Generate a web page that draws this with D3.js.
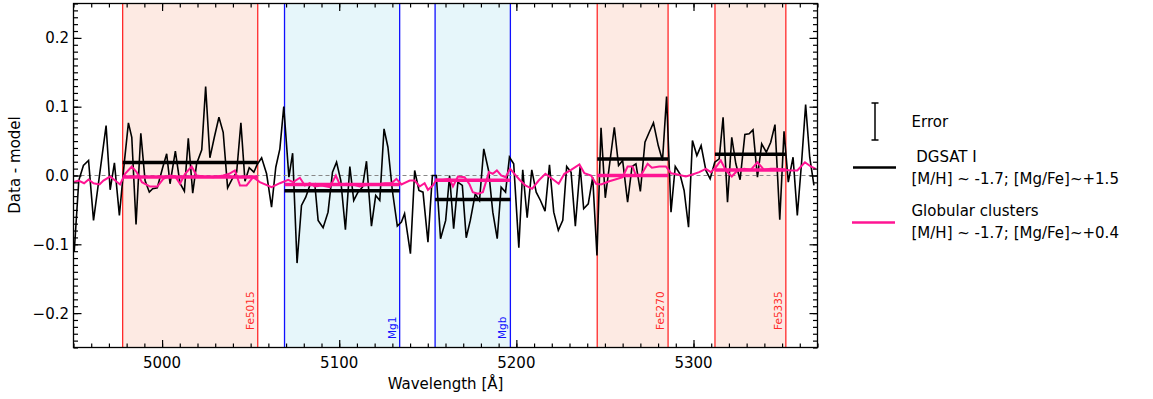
<!DOCTYPE html>
<html>
<head>
<meta charset="utf-8">
<script src="https://cdn.jsdelivr.net/npm/d3@7"></script>
<style>
  body { margin: 0; background: #fff; }
  svg { display: block; font-family: "DejaVu Sans", sans-serif; }
</style>
</head>
<body>
<svg id="chart" width="1153" height="399"></svg>
<script>
// ---------------- DATA ----------------
const dgsatWl = [4950.4,4953.0,4955.6,4958.5,4961.3,4968.4,4970.7,4973.1,4975.9,4978.6,4981.0,4982.9,4985.3,4988.0,4990.4,4992.8,4994.7,4997.3,5000.4,5002.6,5004.5,5007.5,5010.1,5012.6,5014.8,5017.3,5019.5,5022.4,5024.6,5027.0,5029.5,5032.1,5034.5,5037.0,5039.6,5042.1,5044.5,5046.8,5049.2,5051.8,5053.7,5056.2,5059.0,5061.8,5064.2,5066.5,5068.7,5071.6,5073.7,5076.2,5078.7,5081.1,5083.4,5086.2,5088.1,5090.9,5093.7,5096.2,5098.5,5100.9,5103.5,5106.0,5108.2,5110.6,5113.1,5115.4,5118.2,5120.6,5122.9,5125.3,5127.5,5130.0,5132.8,5135.1,5136.9,5140.2,5142.6,5145.0,5147.3,5150.1,5152.6,5154.8,5157.2,5160.1,5162.3,5164.6,5167.0,5169.5,5171.7,5174.0,5176.8,5179.2,5181.6,5184.3,5186.7,5189.2,5191.4,5193.9,5196.1,5198.5,5201.4,5203.6,5206.1,5208.7,5211.2,5213.6,5216.2,5218.7,5221.1,5223.7,5226.2,5228.4,5230.9,5233.3,5236.0,5238.0,5240.6,5243.1,5245.5,5247.8,5250.2,5252.9,5255.3,5257.7,5260.0,5262.8,5265.3,5267.5,5270.0,5272.6,5275.0,5277.4,5280.1,5282.5,5284.8,5287.3,5289.7,5292.3,5294.7,5297.2,5299.4,5301.9,5304.3,5307.0,5309.4,5312.0,5314.5,5316.7,5319.2,5321.6,5323.9,5326.3,5329.0,5331.4,5333.6,5336.1,5338.5,5341.1,5343.6,5346.0,5348.7,5351.1,5353.5,5356.2,5358.6,5361.1,5363.3,5365.6,5368.0];
const dgsatVal = [-0.111,-0.007,0.0145,0.0218,-0.0653,0.0726,-0.0208,0.0184,-0.058,0.017,0.0765,0.0556,-0.0711,0.0614,-0.0073,-0.0242,-0.0193,-0.0179,0.012,0.0315,-0.012,0.0353,-0.0112,-0.0228,0.0541,-0.0257,0.017,0.0373,0.1292,0.0257,0.0556,0.0846,0.0628,-0.0179,-0.0048,0.0048,0.0765,-0.0083,0.0112,0.0048,0.016,0.0257,0.0025,-0.046,0.012,0.0388,0.1001,-0.0025,0.0324,-0.1273,-0.0435,-0.0315,-0.0145,-0.012,-0.0653,-0.0759,-0.0533,0.0048,0.0193,-0.0073,-0.0788,0.0131,-0.0363,-0.0242,-0.017,0.0208,-0.0736,-0.029,-0.0363,0.0678,0.0411,-0.0218,-0.0736,-0.0678,-0.0556,-0.1136,0.0073,-0.0218,-0.0242,-0.0968,0.0,0.0,-0.0919,-0.0653,0.0,-0.0774,-0.0097,-0.0145,-0.0904,-0.0653,-0.0266,-0.0363,0.0388,0.0073,-0.0533,-0.0919,-0.017,-0.0242,0.0266,0.017,-0.1049,0.0083,-0.0614,0.0083,-0.0242,-0.0363,-0.0518,0.0155,-0.0533,-0.0798,-0.0653,0.0131,0.0048,-0.0736,0.0131,-0.0483,-0.0411,-0.0025,-0.1161,0.0692,-0.0324,0.0218,0.0701,0.0145,0.0218,-0.0388,0.0131,0.017,-0.0232,0.0483,0.0628,0.0765,0.0435,0.0218,0.1147,-0.0533,0.0131,0.0025,-0.0218,-0.075,0.0508,0.029,0.0435,0.0073,-0.0048,0.0193,0.0242,0.0846,-0.0388,0.0556,0.017,-0.0062,0.0595,0.0605,0.0663,-0.0025,0.046,0.0338,0.0483,0.074,-0.0643,0.0643,-0.0097,0.0266,-0.058,0.0218,0.103,0.0266,-0.0145];

const gcWl = [4950.4,4952.8,4956.0,4958.5,4961.3,4964.7,4966.9,4970.7,4973.5,4976.3,4979.1,4982.9,4985.7,4988.6,4993.2,4997.3,5000.7,5004.5,5007.3,5010.1,5013.0,5016.7,5019.5,5023.3,5028.9,5034.5,5037.9,5041.1,5044.0,5047.7,5051.4,5055.2,5061.8,5066.5,5071.2,5074.0,5077.8,5080.6,5083.4,5086.2,5090.0,5094.7,5098.1,5100.3,5104.1,5107.8,5111.6,5116.3,5121.0,5125.7,5129.5,5132.3,5135.1,5139.8,5142.6,5145.4,5148.2,5150.1,5152.9,5154.8,5158.5,5162.3,5164.2,5167.0,5170.8,5173.6,5175.4,5178.3,5181.1,5184.5,5186.7,5189.0,5191.4,5193.9,5196.5,5198.9,5201.8,5205.1,5208.9,5212.6,5216.4,5220.2,5223.9,5227.1,5230.9,5235.6,5238.4,5242.2,5245.0,5247.8,5252.5,5257.2,5260.0,5262.8,5265.6,5267.5,5270.3,5274.1,5276.5,5280.7,5284.4,5287.3,5291.0,5295.7,5299.4,5303.2,5307.0,5309.8,5312.6,5315.4,5318.3,5321.6,5324.8,5328.6,5332.3,5336.1,5339.8,5343.6,5347.3,5351.1,5354.9,5358.6,5362.9,5366.2,5369.0];
const gcVal = [-0.0094,-0.0073,-0.0112,-0.0058,-0.0112,-0.0131,-0.0073,-0.0015,-0.0073,-0.0131,0.0025,0.0131,0.0048,-0.0097,-0.016,-0.016,-0.0048,0.0,-0.001,-0.012,0.0025,0.0131,0.0,-0.0015,-0.0025,0.0,0.0025,0.0073,-0.0145,-0.0145,-0.0025,-0.0097,-0.017,-0.0112,-0.0062,-0.0097,-0.0033,-0.0145,-0.0112,-0.016,-0.0145,-0.017,0.0,-0.0131,-0.012,-0.0131,-0.016,-0.0131,-0.0131,-0.0112,-0.0112,-0.0048,-0.0131,-0.0073,-0.0073,-0.016,-0.0112,-0.0208,-0.0145,-0.0062,-0.0062,-0.0048,-0.016,-0.0015,-0.0025,-0.0131,-0.0242,-0.0266,-0.0242,0.0048,0.0025,0.0073,0.0,-0.0025,0.0097,0.0025,-0.0062,-0.0145,-0.0193,-0.0073,0.0025,-0.0048,-0.012,0.0025,0.0083,0.016,0.0033,0.0,-0.012,-0.0131,-0.0083,-0.0048,-0.0025,0.0131,0.0131,0.0,0.0,0.017,0.0112,0.0131,0.0131,0.0033,0.0015,-0.0015,0.0015,0.0048,0.0097,0.0048,0.012,0.0218,0.0073,-0.0015,0.0073,0.0097,0.0083,0.0193,0.0083,0.0097,0.0097,0.0083,0.0073,0.0073,0.0193,0.0131,0.0097];

// index bandpasses
const bandNames = ["Fe5015", "Mg1", "Mgb", "Fe5270", "Fe5335"];
const bandStart = [4977.75, 5069.125, 5154.125, 5245.65, 5312.125];
const bandEnd   = [5054.0, 5134.125, 5196.625, 5285.65, 5352.125];
const bandKind  = ["Fe", "Mg", "Mg", "Fe", "Fe"];
// mean residual in each band
const meanDGSAT = [0.019, -0.022, -0.035, 0.024, 0.031];
const meanGC    = [-0.002, -0.013, -0.007, 0.0, 0.008];

const xMajorTicks = [5000, 5100, 5200, 5300];
const yMajorTicks = [-0.2, -0.1, 0.0, 0.1, 0.2];

const legendLabels = ["Error", " DGSAT I", "[M/H] ~ -1.7; [Mg/Fe]~+1.5", "Globular clusters", "[M/H] ~ -1.7; [Mg/Fe]~+0.4"];

// ---------------- LAYOUT ----------------
const L = 73.5, R = 817.5, T = 3.5, B = 347.5;
const svg = d3.select("#chart");
const x = d3.scaleLinear().domain([4950, 5370]).range([L, R]);
const y = d3.scaleLinear().domain([-0.25, 0.25]).range([B, T]);

const style = {
  Fe: { edge: "#ff2a2a", fill: "#fdeae3", text: "#ff2a2a" },
  Mg: { edge: "#1010ff", fill: "#e6f6fa", text: "#1010ff" }
};
const bands = bandNames.map((n, i) => ({ name: n, a: bandStart[i], b: bandEnd[i], kind: bandKind[i], m1: meanDGSAT[i], m2: meanGC[i] }));

svg.append("defs").append("clipPath").attr("id", "clip")
  .append("rect").attr("x", L).attr("y", T).attr("width", R - L).attr("height", B - T);

const plot = svg.append("g").attr("clip-path", "url(#clip)");

// band fills
plot.selectAll("rect.band").data(bands).join("rect")
  .attr("x", d => x(d.a)).attr("y", T)
  .attr("width", d => x(d.b) - x(d.a)).attr("height", B - T)
  .attr("fill", d => style[d.kind].fill);

// band edges
bands.forEach(d => {
  [d.a, d.b].forEach(v => {
    plot.append("line").attr("x1", x(v)).attr("x2", x(v)).attr("y1", T).attr("y2", B)
      .attr("stroke", style[d.kind].edge).attr("stroke-width", 1.3);
  });
});

// zero line
plot.append("line").attr("x1", L).attr("x2", R).attr("y1", y(0)).attr("y2", y(0))
  .attr("stroke", "#888").attr("stroke-width", 1).attr("stroke-dasharray", "4,3");

const line = d3.line().x(d => x(d[0])).y(d => y(d[1]));
const dgsat = dgsatWl.map((w, i) => [w, dgsatVal[i]]);
const gc = gcWl.map((w, i) => [w, gcVal[i]]);

plot.append("path").attr("d", line(dgsat)).attr("fill", "none")
  .attr("stroke", "#000").attr("stroke-width", 1.6).attr("stroke-linejoin", "miter");
plot.append("path").attr("d", line(gc)).attr("fill", "none")
  .attr("stroke", "#ff1493").attr("stroke-width", 2);

// band means
plot.selectAll("line.m1").data(bands).join("line")
  .attr("x1", d => x(d.a)).attr("x2", d => x(d.b))
  .attr("y1", d => y(d.m1)).attr("y2", d => y(d.m1))
  .attr("stroke", "#000").attr("stroke-width", 3.5);
plot.selectAll("line.m2").data(bands).join("line")
  .attr("x1", d => x(d.a)).attr("x2", d => x(d.b))
  .attr("y1", d => y(d.m2)).attr("y2", d => y(d.m2))
  .attr("stroke", "#ff1493").attr("stroke-width", 3.5);

// band labels
plot.selectAll("text.bl").data(bands).join("text")
  .attr("transform", d => `translate(${x(d.b) - 4},${d.kind === "Fe" ? 330 : 339}) rotate(-90)`)
  .attr("fill", d => style[d.kind].text)
  .attr("font-size", 10.5)
  .attr("text-anchor", "start")
  .text(d => d.name);

// ---------------- AXES ----------------
const xMinor = d3.range(4950, 5371, 10);
const yMinor = d3.range(-25, 26, 1).map(v => v / 100);
function ticks(axis, vals, size) {
  return g => g.call(axis.tickValues(vals).tickSize(size).tickFormat(""))
    .call(g => g.select(".domain").remove())
    .call(g => g.selectAll("line").attr("stroke", "#000").attr("stroke-width", 1.2));
}
svg.append("g").attr("transform", `translate(0,${B})`).call(ticks(d3.axisBottom(x), xMinor, -4));
svg.append("g").attr("transform", `translate(0,${B})`).call(ticks(d3.axisBottom(x), xMajorTicks, -7.5));
svg.append("g").attr("transform", `translate(0,${T})`).call(ticks(d3.axisTop(x), xMinor, -4));
svg.append("g").attr("transform", `translate(0,${T})`).call(ticks(d3.axisTop(x), xMajorTicks, -7.5));
svg.append("g").attr("transform", `translate(${L},0)`).call(ticks(d3.axisLeft(y), yMinor, -4.5));
svg.append("g").attr("transform", `translate(${L},0)`).call(ticks(d3.axisLeft(y), yMajorTicks, -8));
svg.append("g").attr("transform", `translate(${R},0)`).call(ticks(d3.axisRight(y), yMinor, -4.5));
svg.append("g").attr("transform", `translate(${R},0)`).call(ticks(d3.axisRight(y), yMajorTicks, -8));

svg.append("rect").attr("x", L).attr("y", T).attr("width", R - L).attr("height", B - T)
  .attr("fill", "none").attr("stroke", "#000").attr("stroke-width", 1.3);

const fmt = d3.format(".1f");
svg.selectAll("text.xt").data(xMajorTicks).join("text")
  .attr("x", d => x(d)).attr("y", 368).attr("text-anchor", "middle")
  .attr("font-size", 15).text(d => d);
svg.selectAll("text.yt").data(yMajorTicks).join("text")
  .attr("x", 69).attr("y", d => y(d)).attr("dy", "0.36em").attr("text-anchor", "end")
  .attr("font-size", 15).text(d => fmt(d));

svg.append("text").attr("x", (L + R) / 2).attr("y", 389).attr("text-anchor", "middle")
  .attr("font-size", 15).text("Wavelength [Å]");
svg.append("text").attr("transform", `translate(20,165) rotate(-90)`).attr("text-anchor", "middle")
  .attr("font-size", 15).text("Data - model");

// ---------------- LEGEND ----------------
const lg = svg.append("g");
lg.append("line").attr("x1", 875).attr("x2", 875).attr("y1", 103).attr("y2", 140).attr("stroke", "#000").attr("stroke-width", 1.5);
lg.append("line").attr("x1", 871.5).attr("x2", 878.5).attr("y1", 103).attr("y2", 103).attr("stroke", "#000").attr("stroke-width", 1.5);
lg.append("line").attr("x1", 871.5).attr("x2", 878.5).attr("y1", 140).attr("y2", 140).attr("stroke", "#000").attr("stroke-width", 1.5);
lg.append("line").attr("x1", 853).attr("x2", 896).attr("y1", 167.5).attr("y2", 167.5).attr("stroke", "#000").attr("stroke-width", 2.5);
lg.append("line").attr("x1", 852).attr("x2", 895).attr("y1", 222.5).attr("y2", 222.5).attr("stroke", "#ff1493").attr("stroke-width", 2.5);
const ly = [127, 162, 184, 216, 238];
lg.selectAll("text").data(legendLabels).join("text")
  .attr("x", 911.5).attr("y", (d, i) => ly[i]).attr("font-size", 15)
  .attr("xml:space", "preserve").style("white-space", "pre")
  .text(d => d);
</script>
</body>
</html>
